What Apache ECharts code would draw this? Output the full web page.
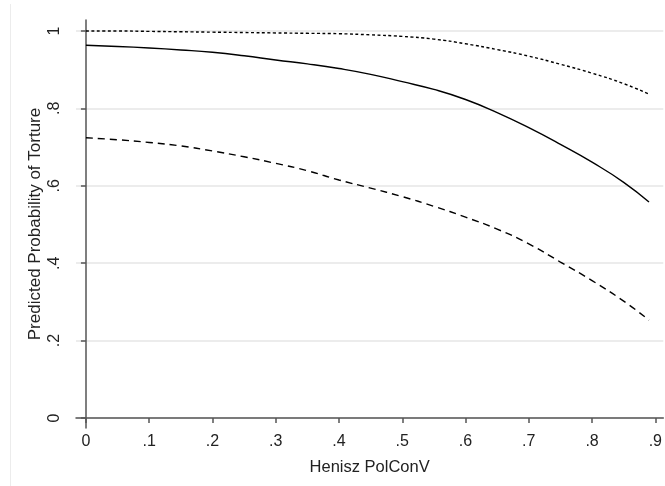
<!DOCTYPE html>
<html>
<head>
<meta charset="utf-8">
<script src="https://cdn.jsdelivr.net/npm/echarts@6/dist/echarts.min.js"></script>
<style>
  html, body { margin: 0; padding: 0; background: #fff; }
  #chart { width: 665px; height: 486px; }
</style>
</head>
<body>
<div id="chart"></div>
<script>
// values
var xValues = [0, 0.05, 0.1, 0.15, 0.2, 0.25, 0.3, 0.35, 0.4, 0.45,
               0.5, 0.55, 0.6, 0.65, 0.7, 0.75, 0.8, 0.85, 0.89];
var predicted = [0.963, 0.960, 0.956, 0.951, 0.945, 0.936, 0.925, 0.915, 0.903, 0.888,
                 0.869, 0.849, 0.823, 0.789, 0.750, 0.707, 0.661, 0.609, 0.558];
var upperCI = [1.000, 1.000, 0.999, 0.998, 0.997, 0.996, 0.995, 0.994, 0.993, 0.990,
               0.986, 0.979, 0.967, 0.952, 0.935, 0.914, 0.891, 0.864, 0.837];
var lowerCI = [0.724, 0.719, 0.712, 0.703, 0.690, 0.675, 0.658, 0.639, 0.615, 0.594,
               0.572, 0.547, 0.519, 0.488, 0.450, 0.403, 0.355, 0.302, 0.253];
var xTicks = [0, 0.1, 0.2, 0.3, 0.4, 0.5, 0.6, 0.7, 0.8, 0.9];
var yTicks = [0, 0.2, 0.4, 0.6, 0.8, 1];

var font = 'Liberation Sans, Arial, sans-serif';
var axisColor = '#555';

function stataLabel(v) {
  var s = String(+(+v).toFixed(2));
  return s.replace(/^0\./, '.');
}

function pairs(ys) {
  return xValues.map(function (x, i) { return [x, ys[i]]; });
}

function lineSeries(name, ys, type) {
  return {
    name: name,
    type: 'line',
    data: pairs(ys),
    smooth: true,
    symbol: 'none',
    lineStyle: { color: '#000', width: 1.4, type: type }
  };
}

var myChart = echarts.init(document.getElementById('chart'));
myChart.setOption({
  animation: false,
  backgroundColor: '#fff',
  textStyle: { fontFamily: font },
  graphic: [{
    type: 'line',
    shape: { x1: 10.5, y1: 4, x2: 10.5, y2: 486 },
    style: { stroke: '#ececec', lineWidth: 1 }
  }],
  grid: { left: 76, right: 0, top: 20, bottom: 58 },
  xAxis: {
    type: 'value',
    min: -0.0157,
    max: 0.9126,
    name: 'Henisz PolConV',
    nameLocation: 'middle',
    nameGap: 31,
    nameMoveOverlap: false,
    nameTextStyle: { fontSize: 16.5, color: '#222', fontFamily: font },
    axisLine: { show: true, lineStyle: { color: axisColor, width: 1.5 } },
    axisTick: { show: true, length: 5, lineStyle: { color: axisColor, width: 1.5 }, customValues: xTicks },
    axisLabel: { fontSize: 16, color: '#222', margin: 6, customValues: xTicks, formatter: stataLabel },
    splitLine: { show: false }
  },
  yAxis: {
    type: 'value',
    min: -0.0258,
    max: 1.0284,
    name: 'Predicted Probability of Torture',
    nameLocation: 'middle',
    nameGap: 32,
    nameMoveOverlap: false,
    nameTextStyle: { fontSize: 17, color: '#222', fontFamily: font },
    axisLine: { show: true, lineStyle: { color: axisColor, width: 1.5 } },
    axisTick: { show: true, length: 5, lineStyle: { color: axisColor, width: 1.5 }, customValues: yTicks },
    axisLabel: { fontSize: 16, color: '#222', margin: 13, rotate: 90, customValues: yTicks, formatter: stataLabel },
    splitLine: { show: true, lineStyle: { color: '#e6e6e6', width: 1.5 } }
  },
  series: [
    lineSeries('Upper', upperCI, [3, 2.5]),
    lineSeries('Predicted', predicted, 'solid'),
    lineSeries('Lower', lowerCI, [7, 5])
  ]
});
</script>
</body>
</html>
